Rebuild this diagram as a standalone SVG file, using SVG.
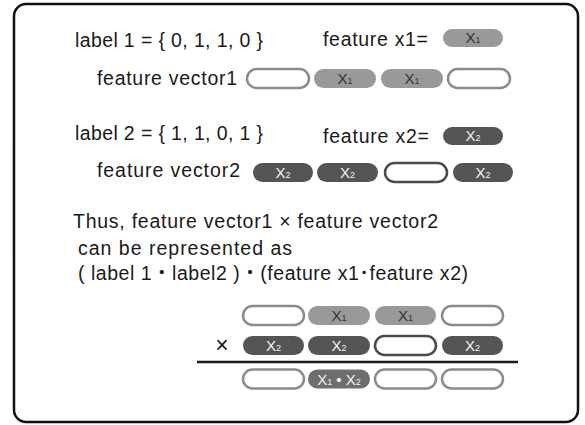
<svg xmlns="http://www.w3.org/2000/svg" width="585" height="425" viewBox="0 0 585 425">
<style>
.t{font-family:"Liberation Sans","Noto Sans CJK JP",sans-serif;font-size:19.5px;fill:#1a1a1a}
.pt{font-family:"Liberation Sans","Noto Sans CJK JP",sans-serif;font-size:15px;text-anchor:middle}
.s{font-size:9px}
.e1{fill:#fff;stroke:#8c8c8c;stroke-width:2.5}
.e2{fill:#fff;stroke:#4a4a4a;stroke-width:2.5}
.g1{fill:#999}
.g2{fill:#555}
.g3{fill:#6e6e6e}
.dk{fill:#333}
.lt{fill:#f2f2f2}
</style>
<rect x="14" y="4" width="564" height="418" rx="12" fill="#fff" stroke="#111" stroke-width="2.5"/>

<g id="label1">
<text class="t" x="75" y="47" textLength="188" lengthAdjust="spacing">label 1 = { 0, 1, 1, 0 }</text>
</g>
<g id="featurex1">
<text class="t" x="323" y="46" textLength="105" lengthAdjust="spacing">feature x1=</text>
<rect class="g1" x="443" y="29" width="60" height="18" rx="9"/>
<text class="pt dk" x="473" y="43">X<tspan class="s">1</tspan></text>
</g>
<g id="vector1">
<text class="t" x="97" y="85" textLength="140" lengthAdjust="spacing">feature vector1</text>
<rect class="e1" x="247" y="69" width="62" height="19" rx="9.5"/>
<rect class="g1" x="314" y="69" width="62" height="19" rx="9.5"/>
<text class="pt dk" x="345" y="84">X<tspan class="s">1</tspan></text>
<rect class="g1" x="381" y="69" width="62" height="19" rx="9.5"/>
<text class="pt dk" x="412" y="84">X<tspan class="s">1</tspan></text>
<rect class="e1" x="448" y="69" width="62" height="19" rx="9.5"/>
</g>

<g id="label2">
<text class="t" x="75" y="140" textLength="188" lengthAdjust="spacing">label 2 = { 1, 1, 0, 1 }</text>
</g>
<g id="featurex2">
<text class="t" x="323" y="143" textLength="106" lengthAdjust="spacing">feature x2=</text>
<rect class="g2" x="443" y="127" width="60" height="18" rx="9"/>
<text class="pt lt" x="473" y="141">X<tspan class="s">2</tspan></text>
</g>
<g id="vector2">
<text class="t" x="97" y="177" textLength="143" lengthAdjust="spacing">feature vector2</text>
<rect class="g2" x="253" y="163" width="60" height="19" rx="9.5"/>
<text class="pt lt" x="283" y="178">X<tspan class="s">2</tspan></text>
<rect class="g2" x="317" y="163" width="61" height="19" rx="9.5"/>
<text class="pt lt" x="347.5" y="178">X<tspan class="s">2</tspan></text>
<rect class="e2" x="385" y="163" width="62" height="19" rx="9.5"/>
<rect class="g2" x="453" y="163" width="60" height="19" rx="9.5"/>
<text class="pt lt" x="483" y="178">X<tspan class="s">2</tspan></text>
</g>

<g id="explanation">
<text class="t" x="73" y="228" textLength="365" lengthAdjust="spacing">Thus, feature vector1 × feature vector2</text>
<text class="t" x="78" y="255" textLength="214" lengthAdjust="spacing">can be represented as</text>
<text class="t" x="78" y="280" textLength="390" lengthAdjust="spacing">( label 1・label2 )・(feature x1･feature x2)</text>
</g>

<g id="rowA">
<rect class="e1" x="243" y="306" width="61" height="19" rx="9.5"/>
<rect class="g1" x="308" y="306" width="62" height="19" rx="9.5"/>
<text class="pt dk" x="339" y="321">X<tspan class="s">1</tspan></text>
<rect class="g1" x="375" y="306" width="61" height="19" rx="9.5"/>
<text class="pt dk" x="405.5" y="321">X<tspan class="s">1</tspan></text>
<rect class="e1" x="442" y="306" width="61" height="19" rx="9.5"/>
</g>
<g id="rowB">
<text class="t" x="222" y="353" text-anchor="middle" style="font-size:23px">×</text>
<rect class="g2" x="243" y="336" width="61" height="19" rx="9.5"/>
<text class="pt lt" x="273.5" y="351">X<tspan class="s">2</tspan></text>
<rect class="g2" x="308" y="336" width="62" height="19" rx="9.5"/>
<text class="pt lt" x="339" y="351">X<tspan class="s">2</tspan></text>
<rect class="e2" x="375" y="336" width="61" height="19" rx="9.5"/>
<rect class="g2" x="442" y="336" width="61" height="19" rx="9.5"/>
<text class="pt lt" x="472.5" y="351">X<tspan class="s">2</tspan></text>
</g>
<g id="connectors">
<line x1="197" y1="362" x2="518" y2="362" stroke="#1a1a1a" stroke-width="2.5"/>
</g>
<g id="rowC">
<rect class="e1" x="243" y="369.5" width="61" height="19" rx="9.5"/>
<rect class="g3" x="308" y="369.5" width="62" height="19" rx="9.5"/>
<text class="pt lt" x="339" y="384.5">X<tspan class="s">1</tspan> • X<tspan class="s">2</tspan></text>
<rect class="e1" x="375" y="369.5" width="61" height="19" rx="9.5"/>
<rect class="e1" x="442" y="369.5" width="61" height="19" rx="9.5"/>
</g>
</svg>
